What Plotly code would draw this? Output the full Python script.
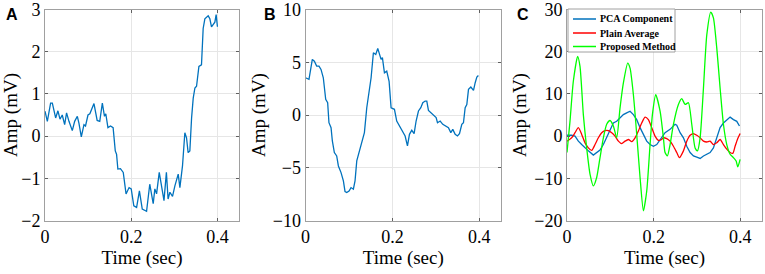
import plotly.graph_objects as go

# ---------------- data ----------------
a_t = [0.0, 0.0054, 0.013, 0.017, 0.0247, 0.030, 0.0348, 0.040, 0.0456, 0.050, 0.0556, 0.0633, 0.0688,
       0.075, 0.0788, 0.0842, 0.0904, 0.094, 0.0997, 0.104, 0.1136, 0.121, 0.127, 0.133, 0.138, 0.141,
       0.146, 0.152, 0.158, 0.163, 0.166, 0.169, 0.175, 0.1815, 0.188, 0.195, 0.200, 0.206, 0.2125,
       0.219, 0.2256, 0.2356, 0.243, 0.251, 0.2548, 0.2588, 0.265, 0.2704, 0.276, 0.2816, 0.2855, 0.2897,
       0.2958, 0.3013, 0.309, 0.3129, 0.319, 0.3244, 0.3283, 0.332, 0.336, 0.340, 0.3438, 0.3477, 0.3515,
       0.357, 0.363, 0.3669, 0.3708, 0.3785, 0.3824, 0.3862, 0.394, 0.397, 0.400]
a_v = [0.59, 0.35, 0.78, 0.78, 0.43, 0.60, 0.40, 0.50, 0.27, 0.55, 0.35, 0.13, 0.35,
       0.47, 0.30, -0.02, 0.27, 0.24, 0.50, 0.53, 0.77, 0.37, 0.35, 0.78, 0.47, 0.53,
       0.20, 0.24, 0.20, -0.35, -0.43, -0.78, -0.77, -0.86, -1.37, -1.22, -1.25, -1.65, -1.69,
       -1.30, -1.73, -1.78, -1.14, -1.60, -1.25, -1.37, -0.86, -1.25, -1.53, -0.86, -1.49, -1.33,
       -1.43, -1.18, -0.90, -1.22, -0.70, 0.08, -0.04, -0.39, -0.35, 0.43, 0.90, 1.14, 1.18,
       1.65, 1.69, 2.55, 2.78, 2.85, 2.78, 2.59, 2.70, 2.88, 2.59]

b_t = [0.0, 0.008, 0.0157, 0.0204, 0.0257, 0.031, 0.0357, 0.041, 0.0465, 0.051, 0.054, 0.0588, 0.0618,
       0.0664, 0.0718, 0.0757, 0.0818, 0.0872, 0.091, 0.0949, 0.1002, 0.1048, 0.1102, 0.114, 0.118,
       0.1233, 0.1294, 0.1356, 0.141, 0.1463, 0.151, 0.1563, 0.1617, 0.1663, 0.1694, 0.174, 0.177,
       0.1817, 0.187, 0.1924, 0.197, 0.2047, 0.21, 0.2178, 0.2254, 0.2293, 0.2347, 0.2393, 0.2446,
       0.25, 0.2546, 0.26, 0.2654, 0.27, 0.2754, 0.2792, 0.283, 0.2884, 0.2945, 0.3007, 0.3038, 0.31,
       0.316, 0.3237, 0.329, 0.3345, 0.339, 0.3445, 0.3498, 0.3544, 0.3598, 0.3636, 0.3675, 0.3713,
       0.3752, 0.3806, 0.3867, 0.3906, 0.3944, 0.398]
b_v = [3.53, 3.38, 5.27, 5.10, 4.64, 4.64, 4.32, 3.53, 1.48, 1.17, -0.73, -1.20, -2.46,
       -3.56, -3.88, -4.83, -5.46, -6.25, -7.26, -7.35, -7.20, -6.88, -7.03, -6.25, -4.35,
       -3.56, -2.46, -1.67, 0.69, 2.27, 3.53, 5.90, 5.74, 6.31, 5.90, 5.27, 5.43,
       4.00, 4.16, 3.20, 0.69, 0.54, -0.57, -1.10, -1.67, -1.99, -2.93, -1.83, -1.45,
       -1.77, -0.57, 0.38, 0.69, 1.17, 1.32, 1.32, 0.44, 0.22, -0.09, -0.25, -0.73, -0.57,
       -0.88, -1.04, -1.20, -1.67, -1.36, -1.83, -1.99, -1.77, -0.88, -0.73, 0.69, 1.00,
       2.43, 2.65, 2.33, 3.06, 3.60, 3.75]

c_pca_t = [0.0, 0.0108, 0.0185, 0.0262, 0.0339, 0.0416, 0.0493, 0.0608, 0.0685, 0.0762, 0.0839, 0.0916,
           0.0993, 0.107, 0.1147, 0.1224, 0.1301, 0.1378, 0.1455, 0.1532, 0.1609, 0.1686, 0.1763,
           0.184, 0.1917, 0.1994, 0.2071, 0.2148, 0.2225, 0.2263, 0.2379, 0.2494, 0.2533, 0.261,
           0.2687, 0.2764, 0.2841, 0.2918, 0.2995, 0.3072, 0.3149, 0.3226, 0.3302, 0.3379, 0.3456,
           0.3533, 0.361, 0.3687, 0.3764, 0.3841, 0.3918, 0.398]
c_pca_v = [0.2, 0.2, 0.0, -1.2, -2.0, -2.8, -3.5, -4.5, -3.9, -3.3, -2.0, -0.4,
           1.6, 3.1, 3.5, 4.3, 5.1, 5.5, 5.9, 5.1, 3.9, 2.0, 0.4,
           -1.2, -2.0, -2.4, -2.0, -0.8, 0.4, 0.8, 1.6, 2.8, 2.6, 0.8,
           -0.4, -2.4, -3.9, -4.7, -5.0, -5.3, -4.7, -4.3, -3.9, -2.8, -0.4,
           2.0, 3.1, 3.9, 4.5, 3.9, 3.5, 2.4]

c_avg_t = [0.0, 0.0108, 0.0185, 0.0262, 0.0339, 0.0416, 0.0493, 0.057, 0.0647, 0.0724, 0.0801, 0.0878,
           0.0955, 0.1032, 0.1109, 0.1186, 0.1263, 0.134, 0.1417, 0.1494, 0.1571, 0.1647, 0.1724,
           0.1801, 0.1878, 0.1955, 0.2032, 0.2109, 0.2186, 0.2225, 0.2302, 0.2379, 0.2456, 0.2533,
           0.2594, 0.2687, 0.2764, 0.2841, 0.2918, 0.2995, 0.3072, 0.3149, 0.3226, 0.3302, 0.3379,
           0.3456, 0.3533, 0.361, 0.3687, 0.3764, 0.3826, 0.3879, 0.3933, 0.3995]
c_avg_v = [-1.2, -0.4, 0.8, 2.0, 0.4, -1.6, -2.8, -3.4, -2.0, -0.4, 0.8, 1.3,
           1.3, 0.8, 0.0, -1.2, -1.8, -1.2, -0.8, -1.3, -0.4, 1.2, 3.1,
           4.5, 3.9, 2.0, 0.0, -1.0, -0.8, -0.4, -0.6, -1.2, -2.4, -3.9,
           -5.1, -3.5, -1.2, 0.2, 0.6, 0.2, -0.4, -1.2, -1.4, -1.2, -2.0,
           -1.6, -0.8, -2.0, -3.1, -3.9, -4.1, -2.4, -0.8, 0.6]

c_prop_t = [0.0, 0.0069, 0.0146, 0.0246, 0.030, 0.0377, 0.0454, 0.0531, 0.0608, 0.0685, 0.0762, 0.0839,
            0.0916, 0.0993, 0.107, 0.1147, 0.1224, 0.1301, 0.1401, 0.1455, 0.1532, 0.1609, 0.1686,
            0.1763, 0.184, 0.1917, 0.1971, 0.2048, 0.2148, 0.2225, 0.2263, 0.2317, 0.2379, 0.2456,
            0.2571, 0.2648, 0.2725, 0.2802, 0.2879, 0.2956, 0.301, 0.3072, 0.3149, 0.3226, 0.3318,
            0.3379, 0.3456, 0.3533, 0.361, 0.3687, 0.3764, 0.3841, 0.3903, 0.3941, 0.3995]
c_prop_v = [-3.9, 3.5, 13.0, 18.9, 16.5, 5.1, -2.8, -9.0, -11.8, -9.8, -5.1, -0.4,
            2.8, 3.7, 2.4, -0.4, 6.7, 12.6, 17.3, 16.1, 9.8, 0.4, -9.8,
            -17.7, -13.0, -2.0, 5.1, 9.8, 5.9, -0.4, -3.9, -4.7, -2.0, 2.8,
            7.5, 8.9, 7.5, 7.9, 2.8, -2.8, -3.5, -0.4, 11.4, 24.0, 29.4,
            28.0, 20.9, 11.4, 2.8, -2.0, -4.3, -5.1, -5.9, -7.3, -5.5]

x_ticks = [0, 0.2, 0.4]
x_tick_text = ["0", "0.2", "0.4"]
a_y_ticks = [-2, -1, 0, 1, 2, 3]
b_y_ticks = [-10, -5, 0, 5, 10]
c_y_ticks = [-20, -10, 0, 10, 20, 30]
panel_labels = ["A", "B", "C"]
legend_names = ["PCA Component", "Plain Average", "Proposed Method"]

# ---------------- figure ----------------
W, H = 765, 274
BLUE = "#0072BD"
RED = "#FF0000"
GREEN = "#00FF00"
SERIF = "Liberation Serif"

fig = go.Figure()
fig.add_trace(go.Scatter(x=a_t, y=a_v, mode="lines", line=dict(color=BLUE, width=1.3),
                         showlegend=False, xaxis="x", yaxis="y"))
fig.add_trace(go.Scatter(x=b_t, y=b_v, mode="lines", line=dict(color=BLUE, width=1.3),
                         showlegend=False, xaxis="x2", yaxis="y2"))
fig.add_trace(go.Scatter(x=c_pca_t, y=c_pca_v, mode="lines", name=legend_names[0],
                         line=dict(color=BLUE, width=1.3), xaxis="x3", yaxis="y3"))
fig.add_trace(go.Scatter(x=c_avg_t, y=c_avg_v, mode="lines", name=legend_names[1],
                         line=dict(color=RED, width=1.3, shape="spline", smoothing=0.6),
                         xaxis="x3", yaxis="y3"))
fig.add_trace(go.Scatter(x=c_prop_t, y=c_prop_v, mode="lines", name=legend_names[2],
                         line=dict(color=GREEN, width=1.3, shape="spline", smoothing=0.6),
                         xaxis="x3", yaxis="y3"))

ybot = (H - 220.5) / H
ytop = (H - 9.5) / H
xdoms = [(45 / W, 239 / W), (305.5 / W, 501 / W), (567 / W, 762 / W)]


def xax(dom, anchor):
    return dict(domain=list(dom), anchor=anchor, range=[0, 0.45], tickvals=x_ticks, ticktext=x_tick_text,
                automargin=False, ticklabeloverflow="allow",
                showgrid=True, gridcolor="#E6E6E6", gridwidth=1, zeroline=False,
                showline=True, linecolor="#A0A0A0", linewidth=1, mirror="ticks",
                ticks="inside", ticklen=3, tickcolor="#606060",
                tickfont=dict(family=SERIF, size=18, color="#000"),
                title=dict(text="Time (sec)", font=dict(family=SERIF, size=19, color="#000"), standoff=0))


def yax(rng, tv, anchor):
    return dict(domain=[ybot, ytop], anchor=anchor, range=rng, tickvals=tv,
                automargin=False, ticklabeloverflow="allow",
                showgrid=True, gridcolor="#E6E6E6", gridwidth=1, zeroline=False,
                showline=True, linecolor="#A0A0A0", linewidth=1, mirror="ticks",
                ticks="inside", ticklen=3, tickcolor="#606060",
                tickfont=dict(family=SERIF, size=18, color="#000"),
                title=dict(text="Amp (mV)", font=dict(family=SERIF, size=19, color="#000"), standoff=2))


fig.update_layout(
    width=W, height=H, margin=dict(l=0, r=0, t=0, b=0),
    paper_bgcolor="white", plot_bgcolor="white",
    xaxis=xax(xdoms[0], "y"), yaxis=yax([-2, 3], a_y_ticks, "x"),
    xaxis2=xax(xdoms[1], "y2"), yaxis2=yax([-10, 10], b_y_ticks, "x2"),
    xaxis3=xax(xdoms[2], "y3"), yaxis3=yax([-20, 30], c_y_ticks, "x3"),
    showlegend=False,
)


def px(x):
    return x / W


def py(y):
    return (H - y) / H


# legend box (drawn in paper coordinates)
fig.add_shape(type="rect", xref="paper", yref="paper", x0=px(568), x1=px(675), y0=py(52), y1=py(9),
              line=dict(color="#A0A0A0", width=1), fillcolor="white", layer="above")
for name, col, ry in zip(legend_names, [BLUE, RED, GREEN], [19, 33, 46.5]):
    fig.add_shape(type="line", xref="paper", yref="paper", x0=px(573), x1=px(596), y0=py(ry), y1=py(ry),
                  line=dict(color=col, width=1.5), layer="above")
    fig.add_annotation(text="<b>%s</b>" % name, x=px(598), y=py(ry), xref="paper", yref="paper",
                       xanchor="left", yanchor="middle", showarrow=False,
                       font=dict(family=SERIF, size=10, color="#000"))

label_x = [4, 262, 515]
for lab, lx in zip(panel_labels, label_x):
    fig.add_annotation(text="<b>%s</b>" % lab, x=px(lx), y=py(4), xref="paper", yref="paper",
                       xanchor="left", yanchor="top", showarrow=False,
                       font=dict(family="Liberation Sans", size=16, color="#000"))

fig.write_html("out.html", config={"displayModeBar": False},
               post_script="document.body.style.margin='0';document.body.style.padding='0';")
